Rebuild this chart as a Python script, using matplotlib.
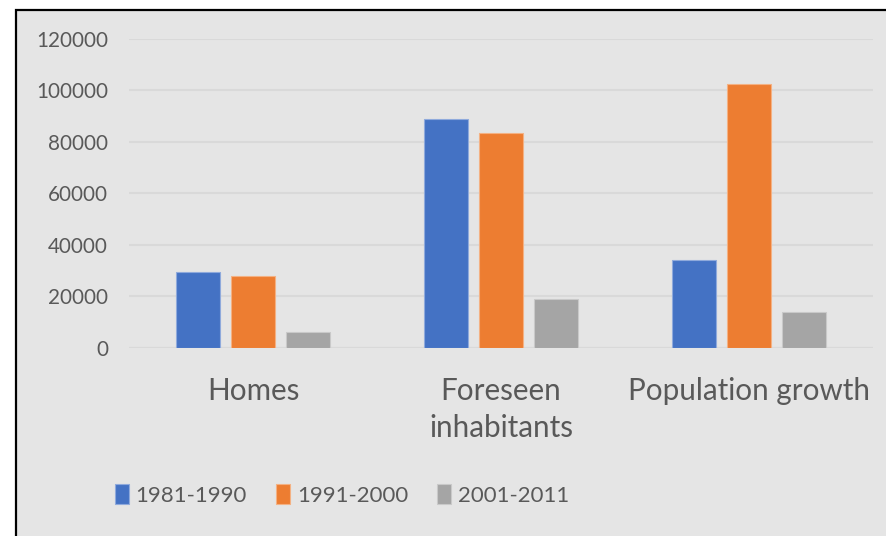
import matplotlib
matplotlib.use("Agg")
from matplotlib import pyplot as plt
import matplotlib.patches as patches
import numpy as np

categories = ["Homes", "Foreseen\ninhabitants", "Population growth"]
series_names = ["1981-1990", "1991-2000", "2001-2011"]
values_1981 = [29300, 89000, 34200]
values_1991 = [27800, 83500, 102500]
values_2001 = [6000, 19000, 14000]
yticks = [0, 20000, 40000, 60000, 80000, 100000, 120000]

colors = ["#4472c4", "#ed7d31", "#a5a5a5"]
edges = ["#8faadc", "#f4b183", "#c9c9c9"]
text_color = "#595959"
bg = "#e5e5e5"

plt.rcParams['font.family'] = ['Lato', 'DejaVu Sans']

W, H = 886, 536
fig = plt.figure(figsize=(W / 100, H / 100), dpi=100, facecolor='white')

# chart area background with black border on the top/left
frame = patches.Rectangle((16 / W, -0.1), 1.1, 1 - 10 / H + 0.1, transform=fig.transFigure,
                          facecolor=bg, edgecolor='black', linewidth=1.6, zorder=-5)
fig.patches.append(frame)

ax = fig.add_axes([129 / W, 1 - 347.7 / H, (873 - 129) / W, (347.7 - 39) / H])
ax.set_facecolor('none')
ax.set_zorder(2)

x = np.arange(len(categories))
step = 0.222
width = 0.177
all_vals = [values_1981, values_1991, values_2001]
for i, vals in enumerate(all_vals):
    ax.bar(x + (i - 1) * step, vals, width, color=colors[i], edgecolor=edges[i],
           linewidth=0.8, label=series_names[i], zorder=3)

ax.set_xlim(-0.5, 2.5)
ax.set_ylim(0, 120000)
ax.set_yticks(yticks)
ax.set_yticklabels([str(v) for v in yticks])
ax.set_xticks(x)
ax.set_xticklabels(categories, linespacing=1.4)

ax.grid(axis='y', color='#d9d9d9', linewidth=1.5, zorder=0)
ax.set_axisbelow(True)
for s in ax.spines.values():
    s.set_visible(False)
ax.tick_params(axis='both', length=0, colors=text_color)
ax.tick_params(axis='y', labelsize=14.9, pad=15)
ax.tick_params(axis='x', labelsize=21.3, pad=21)
ax.axhline(0, color='#d9d9d9', linewidth=1.5, zorder=1)

handles = [patches.Patch(facecolor=colors[i], edgecolor=edges[i], linewidth=0.8)
           for i in range(3)]
leg = fig.legend(handles, series_names, loc='center', bbox_to_anchor=(342 / W, 1 - 495 / H),
                 ncol=3, frameon=False, handlelength=0.63, handleheight=0.95,
                 handletextpad=0.32, columnspacing=1.3,
                 prop={'size': 16})
leg.set_zorder(3)
for t in leg.get_texts():
    t.set_color(text_color)

fig.savefig("out.png", dpi=100, facecolor='white')
